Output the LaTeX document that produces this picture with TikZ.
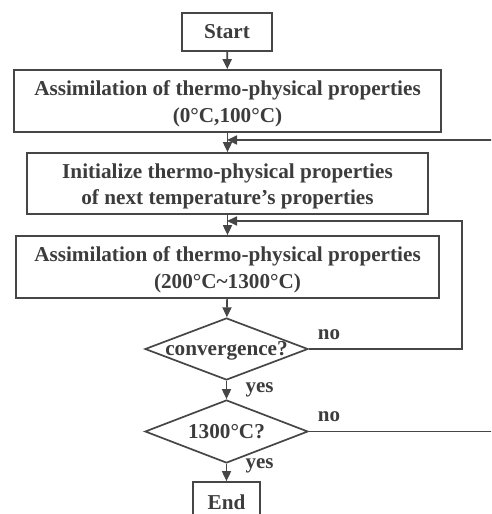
\documentclass[tikz,border=0pt]{standalone}
\usepackage{fontspec}
\setmainfont{Liberation Serif}
\usetikzlibrary{arrows.meta,shapes.geometric}
\definecolor{ln}{RGB}{70,70,70}
\definecolor{tx}{RGB}{60,60,60}
\tikzset{
  box/.style={draw=ln,line width=1.7pt,rectangle,inner sep=0pt,align=center,text=tx,
    font=\fontsize{21.2}{26.5}\selectfont\bfseries},
  btxt/.style={align=center,text=tx,inner sep=0pt,yshift=-3pt,
    font=\fontsize{21.2}{26.5}\selectfont\bfseries},
  dia/.style={draw=ln,line width=1.7pt,diamond,inner sep=0pt,text=tx},
  dlab/.style={text=tx,font=\fontsize{21.2}{26}\selectfont\bfseries},
  lab/.style={text=tx,font=\fontsize{21}{24}\selectfont\bfseries},
  conn/.style={draw=ln,line width=1.7pt,-{Triangle[length=10pt,width=9pt]}},
}
\begin{document}
\begin{tikzpicture}[x=1pt,y=-1pt]
\useasboundingbox (0,0) rectangle (491,514);
\clip (0,0) rectangle (491,514);
\node[box,minimum width=90pt,minimum height=38pt] (start) at (227,32) {Start};
\node[box,minimum width=427pt,minimum height=62pt,label={[btxt]center:Assimilation of thermo-physical properties\\(0°C,100°C)}] (b1) at (227.5,101) {};
\node[box,minimum width=401pt,minimum height=61pt,label={[btxt]center:Initialize thermo-physical properties\\of next temperature’s properties}] (b2) at (227.5,183.5) {};
\node[box,minimum width=423pt,minimum height=62pt,label={[btxt]center:Assimilation of thermo-physical properties\\(200°C\textasciitilde1300°C)}] (b3) at (227.5,267) {};
\node[dia,minimum width=163pt,minimum height=62pt,label={[dlab,yshift=-2pt]center:convergence?}] (d1) at (226.5,349) {};
\node[dia,minimum width=163pt,minimum height=63pt,label={[dlab]center:1300°C?}] (d2) at (226.5,431.5) {};
\node[box,minimum width=67pt,minimum height=40pt] (end) at (226.5,502) {End};
\coordinate (m1) at (227,140);
\coordinate (m2) at (227,221);
\coordinate (r1) at (462,349);
\coordinate (r2) at (530,431.5);
\draw[conn] (start) -- (b1);
\draw[conn] (b1) -- (b2);
\draw[conn] (b2) -- (b3);
\draw[conn] (b3) -- (d1);
\draw[conn] (d1) -- (d2);
\draw[conn] (d2) -- (end);
\draw[conn] (d1.east) -- (r1) |- (m2);
\draw[conn] (d2.east) -- (r2) |- (m1);
\node[lab] at (329,335) {no};
\node[lab] at (329,417) {no};
\node[lab] at (259.5,390) {yes};
\node[lab] at (259.5,466) {yes};
\end{tikzpicture}
\end{document}
